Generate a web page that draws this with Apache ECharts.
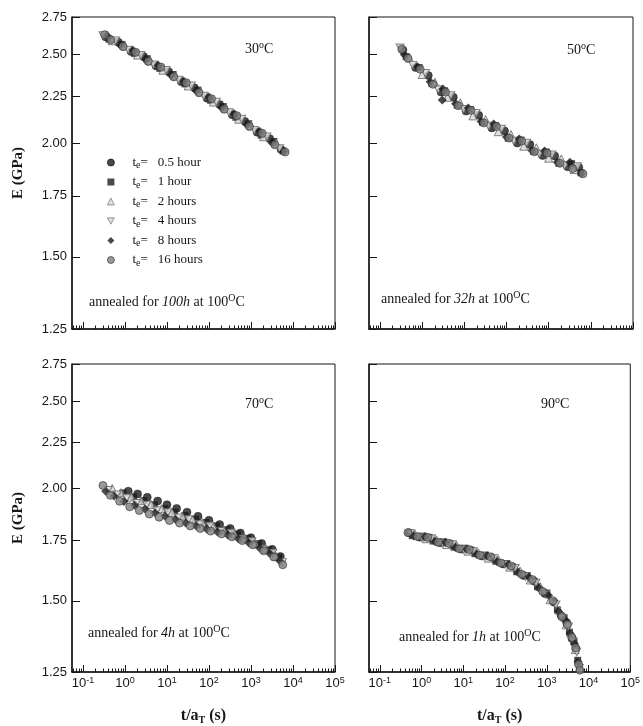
<!DOCTYPE html>
<html><head><meta charset="utf-8">
<script src="https://cdn.jsdelivr.net/npm/echarts@6/dist/echarts.min.js"></script>
<style>html,body{margin:0;padding:0;background:#fff}#c{width:643px;height:726px}</style>
</head><body><div id="c"></div>
<script>
// ---------- tick labels / categories ----------
const xTickExps = [-1, 0, 1, 2, 3, 4, 5];
const yTicks = [1.25, 1.50, 1.75, 2.00, 2.25, 2.50, 2.75];
const seriesNames = ['0.5 hour', '1 hour', '2 hours', '4 hours', '8 hours', '16 hours'];
const panelTemps = ['30', '50', '70', '90'];
const annealTimes = ['100h', '32h', '4h', '1h'];

// ---------- data: t/aT (s) and E (GPa) ----------
// 30 C and 50 C panels share time grids
const tAB_05 = [0.35,0.7,1.4,2.8,5.5,11,22,45,90,180,360,720,1400,2800,5200];
const tAB_1  = [0.42,0.85,1.7,3.4,6.8,14,27,55,110,220,440,880,1750,3500,5800];
const tAB_2  = [0.5,1,2,4,8,16,32,64,128,256,512,1000,2000,4000];
const tAB_4  = [0.3,0.6,1.2,2.4,4.8,9.6,19,38,76,150,300,600,1200,2400,4800];
const tAB_8  = [0.38,0.78,1.55,3.1,6.2,12.5,25,50,100,200,400,800,1600,3200,6000];
const tAB_16 = [0.33,0.46,0.9,1.8,3.6,7.2,14.5,29,58,115,230,460,920,1850,3700,6500];

const e30_05 = [2.615,2.580,2.520,2.488,2.430,2.395,2.335,2.300,2.240,2.205,2.148,2.112,2.055,2.022,1.968];
const e30_1  = [2.600,2.566,2.508,2.475,2.415,2.378,2.322,2.286,2.228,2.193,2.134,2.100,2.040,2.008,1.960];
const e30_2  = [2.590,2.556,2.498,2.462,2.404,2.369,2.310,2.276,2.218,2.183,2.124,2.090,2.032,1.998];
const e30_4  = [2.625,2.590,2.530,2.497,2.438,2.404,2.345,2.312,2.252,2.219,2.160,2.125,2.066,2.032,1.972];
const e30_8  = [2.622,2.560,2.528,2.468,2.434,2.374,2.340,2.281,2.246,2.187,2.153,2.094,2.060,2.000,1.958];
const e30_16 = [2.630,2.596,2.552,2.516,2.458,2.423,2.364,2.329,2.271,2.237,2.178,2.143,2.085,2.050,1.991,1.955];

const e50_05 = [2.530,2.420,2.372,2.275,2.245,2.168,2.145,2.078,2.062,2.000,1.992,1.938,1.935,1.884,1.880];
const e50_1  = [2.488,2.420,2.325,2.282,2.200,2.176,2.108,2.090,2.025,2.015,1.958,1.955,1.900,1.898,1.855];
const e50_2  = [2.480,2.378,2.332,2.245,2.214,2.142,2.122,2.058,2.043,1.984,1.976,1.925,1.921,1.870];
const e50_4  = [2.545,2.435,2.385,2.290,2.255,2.178,2.156,2.088,2.072,2.010,2.000,1.945,1.942,1.890,1.885];
const e50_8  = [2.500,2.425,2.335,2.292,2.208,2.185,2.112,2.098,2.030,2.020,1.962,1.960,1.905,1.905,1.852];
const e50_16 = [2.535,2.478,2.410,2.320,2.275,2.198,2.172,2.104,2.085,2.025,2.010,1.956,1.950,1.900,1.875,1.850];
const p50_8_extra = [[3.0, 2.23]];

const t70_05 = [1.2,2.0,3.4,6,10,17,30,55,100,180,320,560,1000,1800,3200,5000];
const t70_1  = [0.9,1.6,2.8,5,9,15,27,48,85,150,270,480,850,1500,2700,4600];
const t70_2  = [0.5,0.8,1.4,2.4,4.2,7.5,13,23,40,70,125,220,400,700,1250,2200,3900];
const t70_4  = [0.4,0.65,1.1,1.9,3.3,5.8,10.5,19,33,60,105,190,340,600,1050,1900,3300,5600];
const t70_8  = [0.35,0.55,0.95,1.7,3.0,5.2,9,16,28,50,88,160,280,500,880,1600,2800,4800];
const t70_16 = [0.3,0.45,0.75,1.3,2.2,3.8,6.5,11.5,20,36,62,110,200,350,620,1100,2000,3500,5700];
const e70_05 = [1.986,1.972,1.955,1.936,1.918,1.900,1.882,1.862,1.843,1.823,1.805,1.784,1.763,1.737,1.711,1.680];
const e70_1  = [1.977,1.957,1.938,1.918,1.899,1.883,1.866,1.849,1.833,1.817,1.799,1.780,1.760,1.736,1.709,1.676];
const e70_2  = [2.000,1.978,1.956,1.938,1.919,1.899,1.881,1.864,1.848,1.832,1.816,1.799,1.780,1.761,1.738,1.713,1.682];
const e70_4  = [1.990,1.968,1.952,1.925,1.917,1.890,1.880,1.855,1.847,1.823,1.817,1.792,1.784,1.757,1.746,1.712,1.695,1.655];
const e70_8  = [1.986,1.961,1.934,1.915,1.897,1.879,1.862,1.847,1.831,1.817,1.803,1.789,1.775,1.758,1.740,1.717,1.693,1.662];
const e70_16 = [2.015,1.965,1.935,1.908,1.890,1.873,1.858,1.842,1.830,1.817,1.805,1.793,1.780,1.767,1.750,1.731,1.705,1.678,1.645];

const t90_05 = [0.5,0.9,1.6,2.8,5,9,16,28,50,90,160,280,500,900,1500,2200,3000,4000,5000];
const t90_1  = [0.6,1.1,1.9,3.4,6,11,19,34,60,110,190,340,600,1000,1800,2600,3500,4500,5500];
const t90_2  = [0.7,1.3,2.3,4,7,13,23,40,70,130,230,400,700,1200,2000,2900,3800,4800,5800];
const t90_4  = [0.55,1.0,1.75,3.1,5.5,10,17.5,31,55,100,175,310,550,950,1650,2400,3300,4200,5200,6000];
const t90_8  = [0.65,1.2,2.1,3.7,6.5,12,21,37,65,120,210,370,650,1100,1900,2700,3600,4600,5600];
const t90_16 = [0.47,0.8,1.4,2.5,4.5,8,14,25,45,80,140,250,450,800,1400,2300,3100,4000,4900,5800,6200];
const e90_05 = [1.785,1.765,1.762,1.740,1.735,1.712,1.706,1.682,1.674,1.648,1.634,1.600,1.577,1.528,1.494,1.444,1.418,1.362,1.326];
const e90_1  = [1.772,1.770,1.748,1.744,1.721,1.716,1.692,1.686,1.660,1.650,1.616,1.600,1.555,1.530,1.465,1.436,1.384,1.350,1.288];
const e90_2  = [1.778,1.758,1.752,1.732,1.726,1.703,1.696,1.673,1.665,1.635,1.618,1.582,1.555,1.504,1.464,1.410,1.382,1.324,1.284];
const e90_4  = [1.782,1.764,1.758,1.738,1.732,1.710,1.702,1.681,1.672,1.646,1.630,1.596,1.570,1.524,1.485,1.434,1.404,1.352,1.316,1.262];
const e90_8  = [1.770,1.767,1.746,1.742,1.719,1.713,1.690,1.683,1.658,1.646,1.612,1.594,1.550,1.521,1.460,1.430,1.380,1.344,1.283];
const e90_16 = [1.786,1.768,1.764,1.742,1.738,1.714,1.710,1.685,1.679,1.652,1.640,1.605,1.584,1.536,1.500,1.440,1.412,1.366,1.330,1.274,1.256];

// ---------- build ----------
const zip = (t, e) => t.map((v, i) => [v, e[i]]);
const panelData = [
  [zip(tAB_05,e30_05), zip(tAB_1,e30_1), zip(tAB_2,e30_2), zip(tAB_4,e30_4), zip(tAB_8,e30_8), zip(tAB_16,e30_16)],
  [zip(tAB_05,e50_05), zip(tAB_1,e50_1), zip(tAB_2,e50_2), zip(tAB_4,e50_4), zip(tAB_8,e50_8).concat(p50_8_extra), zip(tAB_16,e50_16)],
  [zip(t70_05,e70_05), zip(t70_1,e70_1), zip(t70_2,e70_2), zip(t70_4,e70_4), zip(t70_8,e70_8), zip(t70_16,e70_16)],
  [zip(t90_05,e90_05), zip(t90_1,e90_1), zip(t90_2,e90_2), zip(t90_4,e90_4), zip(t90_8,e90_8), zip(t90_16,e90_16)]
];

const X_MIN = 0.055, X_MAX = 1e5, Y_MIN = 1.25, Y_MAX = 2.75;
const LX0 = Math.log10(X_MIN);
const minorVals = [];
for (let n = -2; n < 5; n++) for (let k = 2; k <= 9; k++) {
  const v = Math.log10(k) + n;
  if (v >= LX0 && v <= 5) minorVals.push(v);
}
const yTickLn = yTicks.map(v => Math.log(v));

const grids = [
  {left: 72, top: 17, width: 263, height: 312},
  {left: 369, top: 17, width: 264, height: 312},
  {left: 72, top: 364, width: 263, height: 312},
  {left: 369, top: 364, width: 264, height: 312}
];

const INK = '#161616';
const markerStyles = [
  {symbol: 'circle', symbolSize: 8, itemStyle: {color: '#1c1c1c', borderColor: '#000', borderWidth: 0.5}},
  {symbol: 'rect', symbolSize: 7, itemStyle: {color: '#1c1c1c'}},
  {symbol: 'triangle', symbolSize: 8, itemStyle: {color: '#d8d8d8', borderColor: '#666', borderWidth: 1}},
  {symbol: 'path://M0,0L10,0L5,9Z', symbolSize: [8, 7.5], itemStyle: {color: '#d8d8d8', borderColor: '#666', borderWidth: 1}},
  {symbol: 'diamond', symbolSize: 9, itemStyle: {color: '#1c1c1c'}},
  {symbol: 'circle', symbolSize: 8, itemStyle: {color: '#808080', borderColor: '#333', borderWidth: 0.8}}
];

const SERIF = 'Liberation Serif';
const SANS = 'Liberation Sans';

const option = {
  animation: false,
  backgroundColor: '#ffffff',
  grid: grids.map(g => Object.assign({}, g, {show: true, borderColor: INK, borderWidth: 1, backgroundColor: 'transparent'})),
  xAxis: [], yAxis: [], series: [],
  legend: {
    data: seriesNames, orient: 'vertical', left: 107, top: 156, padding: 0,
    itemWidth: 7, itemHeight: 7, itemGap: 5, selectedMode: false,
    itemStyle: {borderWidth: 0.8},
    formatter: n => '{sp| }{a|t}{s|e}{a|=}{v|' + n + '}',
    textStyle: {
      rich: {
        sp: {width: 13},
        a: {fontFamily: SERIF, fontSize: 13, color: INK, lineHeight: 16},
        s: {fontFamily: SERIF, fontSize: 10, color: INK, lineHeight: 10, verticalAlign: 'bottom', padding: [0, 0, 0, 0]},
        v: {fontFamily: SERIF, fontSize: 13, color: INK, lineHeight: 16, padding: [0, 0, 0, 10]}
      }
    }
  },
  title: []
};

grids.forEach((g, i) => {
  const bottomRow = i >= 2, leftCol = i % 2 === 0;
  option.xAxis.push({
    type: 'log', gridIndex: i, position: 'bottom', logBase: 10, min: X_MIN, max: X_MAX,
    axisLine: {show: true, onZero: false, lineStyle: {color: INK, width: 1.5}},
    axisTick: {show: false}, axisLabel: {show: false}, splitLine: {show: false},
    minorTick: {show: false}, minorSplitLine: {show: false}
  });
  option.xAxis.push({
    type: 'value', gridIndex: i, position: 'bottom', min: LX0, max: 5,
    axisLine: {show: false, onZero: false},
    axisTick: {show: true, inside: true, length: 7, customValues: xTickExps, lineStyle: {color: INK, width: 1}},
    axisLabel: {
      show: bottomRow, customValues: xTickExps, margin: 4,
      formatter: v => '{b|10}{s|' + Math.round(v) + '}',
      rich: {
        b: {fontFamily: SANS, fontSize: 13, color: INK, lineHeight: 15},
        s: {fontFamily: SANS, fontSize: 9, color: INK, lineHeight: 9, verticalAlign: 'top'}
      }
    },
    splitLine: {show: false},
    name: bottomRow ? '{b|t/a}{s|T}{b| (s)}' : '', nameLocation: 'middle', nameGap: 35,
    nameTextStyle: {
      rich: {
        b: {fontFamily: SERIF, fontWeight: 'bold', fontSize: 16, color: INK, lineHeight: 18},
        s: {fontFamily: SERIF, fontWeight: 'bold', fontSize: 10, color: INK, lineHeight: 10, verticalAlign: 'bottom'}
      }
    }
  });
  option.xAxis.push({
    type: 'value', gridIndex: i, position: 'bottom', min: LX0, max: 5,
    axisLine: {show: false, onZero: false},
    axisTick: {show: true, inside: true, length: 3.5, customValues: minorVals, lineStyle: {color: INK, width: 1}},
    axisLabel: {show: false}, splitLine: {show: false}
  });
  option.yAxis.push({
    type: 'log', gridIndex: i, position: 'left', logBase: 10, min: Y_MIN, max: Y_MAX,
    axisLine: {show: true, onZero: false, lineStyle: {color: INK, width: 1.5}},
    axisTick: {show: false}, axisLabel: {show: false}, splitLine: {show: false},
    minorTick: {show: false}, minorSplitLine: {show: false}
  });
  option.yAxis.push({
    type: 'value', gridIndex: i, position: 'left', min: Math.log(Y_MIN), max: Math.log(Y_MAX),
    axisLine: {show: false, onZero: false},
    axisTick: {show: true, inside: true, length: 8, customValues: yTickLn, lineStyle: {color: INK, width: 1}},
    axisLabel: {
      show: leftCol, customValues: yTickLn, margin: 5,
      formatter: v => Math.exp(v).toFixed(2),
      fontFamily: SANS, fontSize: 13, color: INK
    },
    splitLine: {show: false},
    name: leftCol ? 'E (GPa)' : '', nameLocation: 'middle', nameRotate: 90, nameGap: 46,
    nameTextStyle: {fontFamily: SERIF, fontWeight: 'bold', fontSize: 15, color: INK}
  });
  panelData[i].forEach((d, k) => {
    option.series.push(Object.assign({
      type: 'scatter', name: seriesNames[k], xAxisIndex: 3 * i, yAxisIndex: 2 * i,
      data: d, silent: true
    }, markerStyles[k]));
  });
});

// temperature and annealing annotations
const tempPos = [[245, 40], [567, 41], [245, 395], [541, 395]];
const annealPos = [[89, 293], [381, 290], [88, 624], [399, 628]];
const txtRich = {
  n: {fontFamily: SERIF, fontSize: 14, fontWeight: 'normal', color: INK, lineHeight: 18},
  i: {fontFamily: SERIF, fontSize: 14, fontWeight: 'normal', fontStyle: 'italic', color: INK, lineHeight: 18},
  o: {fontFamily: SERIF, fontSize: 10, fontWeight: 'normal', color: INK, lineHeight: 10, verticalAlign: 'top'}
};
panelTemps.forEach((t, i) => {
  option.title.push({
    text: '{n|' + t + '}{o|o}{n|C}', left: tempPos[i][0], top: tempPos[i][1], padding: 0,
    textStyle: {fontWeight: 'normal', fontSize: 14, rich: txtRich}
  });
  option.title.push({
    text: '{n|annealed for }{i|' + annealTimes[i] + '}{n| at 100}{o|O}{n|C}',
    left: annealPos[i][0], top: annealPos[i][1], padding: 0,
    textStyle: {fontWeight: 'normal', fontSize: 14, rich: txtRich}
  });
});

const chart = echarts.init(document.getElementById('c'), null, {renderer: 'canvas'});
chart.setOption(option);
</script>
</body></html>
